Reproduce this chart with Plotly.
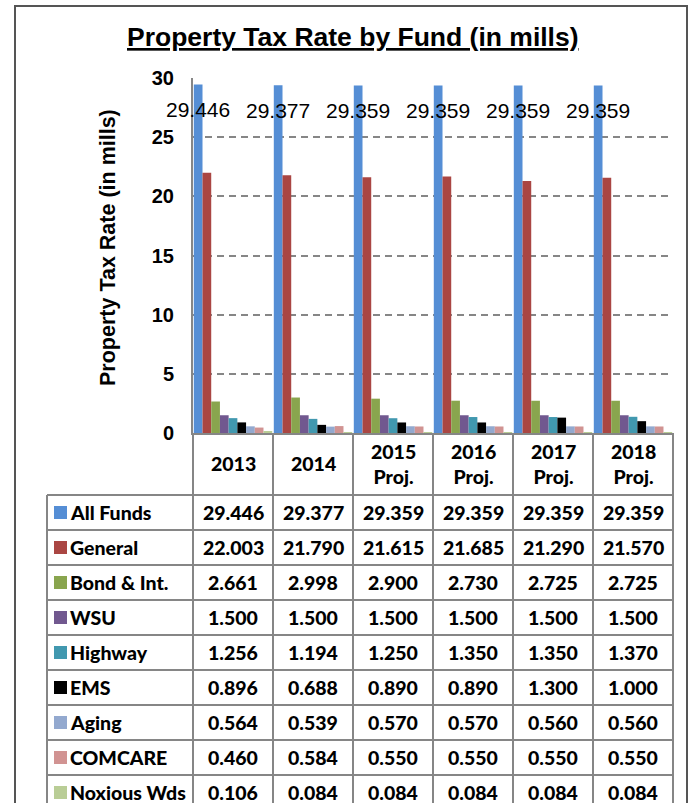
import plotly.graph_objects as go

# ---- data ----
categories = ["2013", "2014", "2015<br>Proj.", "2016<br>Proj.", "2017<br>Proj.", "2018<br>Proj."]
funds = ["All Funds", "General", "Bond & Int.", "WSU", "Highway", "EMS", "Aging", "COMCARE", "Noxious Wds"]
all_funds = [29.446, 29.377, 29.359, 29.359, 29.359, 29.359]
general = [22.003, 21.790, 21.615, 21.685, 21.290, 21.570]
bond_int = [2.661, 2.998, 2.900, 2.730, 2.725, 2.725]
wsu = [1.500, 1.500, 1.500, 1.500, 1.500, 1.500]
highway = [1.256, 1.194, 1.250, 1.350, 1.350, 1.370]
ems = [0.896, 0.688, 0.890, 0.890, 1.300, 1.000]
aging = [0.564, 0.539, 0.570, 0.570, 0.560, 0.560]
comcare = [0.460, 0.584, 0.550, 0.550, 0.550, 0.550]
noxious = [0.106, 0.084, 0.084, 0.084, 0.084, 0.084]
y_ticks = [0, 5, 10, 15, 20, 25, 30]

series = [all_funds, general, bond_int, wsu, highway, ems, aging, comcare, noxious]
colors = ["#558ED5", "#AA4643", "#89A54E", "#71588F", "#4198AF",
          "#000000", "#93A9CF", "#D19392", "#B9CD96"]

# ---- layout geometry (pixels) ----
W, H = 691, 803
L, R, T, B = 193, 18, 78, 370
PW, PH = W - L - R, H - T - B
BARGAP = 0.02
GRID = "#868686"
ARIAL = "Liberation Sans, Arial, sans-serif"
CAL = "Lato, Carlito, Calibri, sans-serif"


def px_x(px):
    return (px - L) / PW


def px_y(py):
    return (H - B - py) / PH


x_pos = list(range(len(categories)))

fig = go.Figure()
for name, vals, col in zip(funds, series, colors):
    fig.add_trace(go.Bar(x=x_pos, y=vals, name=name, marker=dict(color=col, line=dict(width=0)),
                         showlegend=False))

shapes = []
ann = []

# value labels on the All Funds bars
n = len(series)
bw = (1 - BARGAP) / n
for i, v in zip(x_pos, all_funds):
    ann.append(dict(x=i - (1 - BARGAP) / 2 + bw / 2, y=v, xref="x", yref="y",
                    text=f"{v:.3f}", showarrow=False, yanchor="middle", yshift=-25,
                    font=dict(family=ARIAL, size=21, color="black")))

# chart title
ann.append(dict(x=px_x(353), y=px_y(37), xref="paper", yref="paper",
                text="<b><u>Property Tax Rate by Fund (in mills)</u></b>", showarrow=False,
                xanchor="center", yanchor="middle", font=dict(family=ARIAL, size=26.5, color="black")))

# y-axis title
ann.append(dict(x=px_x(108), y=px_y(248), xref="paper", yref="paper",
                text="<b>Property Tax Rate (in mills)</b>", showarrow=False, textangle=-90,
                xanchor="center", yanchor="middle", font=dict(family=ARIAL, size=21.5, color="black")))

# ---- data table under the plot ----
header_top, header_bot = 433, 495
row_h = 35
rows_top = header_bot
table_left = 47
table_right = 673
line = dict(color=GRID, width=2)

# vertical column lines
for k in range(len(categories) + 1):
    xp = px_x(L + k * PW / len(categories))
    shapes.append(dict(type="line", xref="paper", yref="paper", x0=xp, x1=xp,
                       y0=px_y(header_top), y1=px_y(H + 10), line=line))
# legend column left edge
shapes.append(dict(type="line", xref="paper", yref="paper", x0=px_x(table_left), x1=px_x(table_left),
                   y0=px_y(rows_top), y1=px_y(H + 10), line=line))
# horizontal row lines
for r in range(len(funds) + 1):
    yp = px_y(rows_top + r * row_h)
    shapes.append(dict(type="line", xref="paper", yref="paper", x0=px_x(table_left), x1=px_x(table_right),
                       y0=yp, y1=yp, line=line))

cell_font = dict(family=CAL, size=19.5, color="black", weight=900)

# header labels
for i, c in zip(x_pos, categories):
    ann.append(dict(x=i, y=px_y((header_top + header_bot) / 2), xref="x", yref="paper",
                    text=c, showarrow=False, xanchor="center", yanchor="middle", font=cell_font))

# rows: legend key, name, values
for r, (name, vals, col) in enumerate(zip(funds, series, colors)):
    cy = rows_top + r * row_h + row_h / 2
    shapes.append(dict(type="rect", xref="paper", yref="paper",
                       x0=px_x(54), x1=px_x(67), y0=px_y(cy - 6.5), y1=px_y(cy + 6.5),
                       fillcolor=col, line=dict(width=0)))
    ann.append(dict(x=px_x(68), y=px_y(cy), xref="paper", yref="paper", text=name,
                    showarrow=False, xanchor="left", yanchor="middle", font=cell_font))
    for i, v in zip(x_pos, vals):
        ann.append(dict(x=i, y=px_y(cy), xref="x", yref="paper", text=f"{v:.3f}",
                        showarrow=False, xanchor="center", yanchor="middle", font=cell_font))

# outer chart frame
shapes.append(dict(type="rect", xref="paper", yref="paper", x0=px_x(15), x1=px_x(687),
                   y0=px_y(6), y1=px_y(H + 10), line=dict(color="#555555", width=2)))

fig.update_layout(
    width=W, height=H,
    margin=dict(l=L, r=R, t=T, b=B, pad=0),
    paper_bgcolor="white", plot_bgcolor="white",
    barmode="group", bargap=BARGAP, bargroupgap=0,
    shapes=shapes, annotations=ann,
    xaxis=dict(range=[-0.5, len(categories) - 0.5], showticklabels=False, ticks="",
               showgrid=False, zeroline=False, showline=True, linecolor=GRID, linewidth=2),
    yaxis=dict(range=[0, 30], tickvals=y_ticks, ticktext=[f"<b>{t}</b>" for t in y_ticks],
               tickfont=dict(family=ARIAL, size=20, color="black"), ticks="",
               ticklabelstandoff=13, showgrid=True, gridcolor=GRID, gridwidth=1.5, griddash="7px,5px",
               zeroline=False, showline=True, linecolor=GRID, linewidth=2),
)

fig.write_html("out.html")
